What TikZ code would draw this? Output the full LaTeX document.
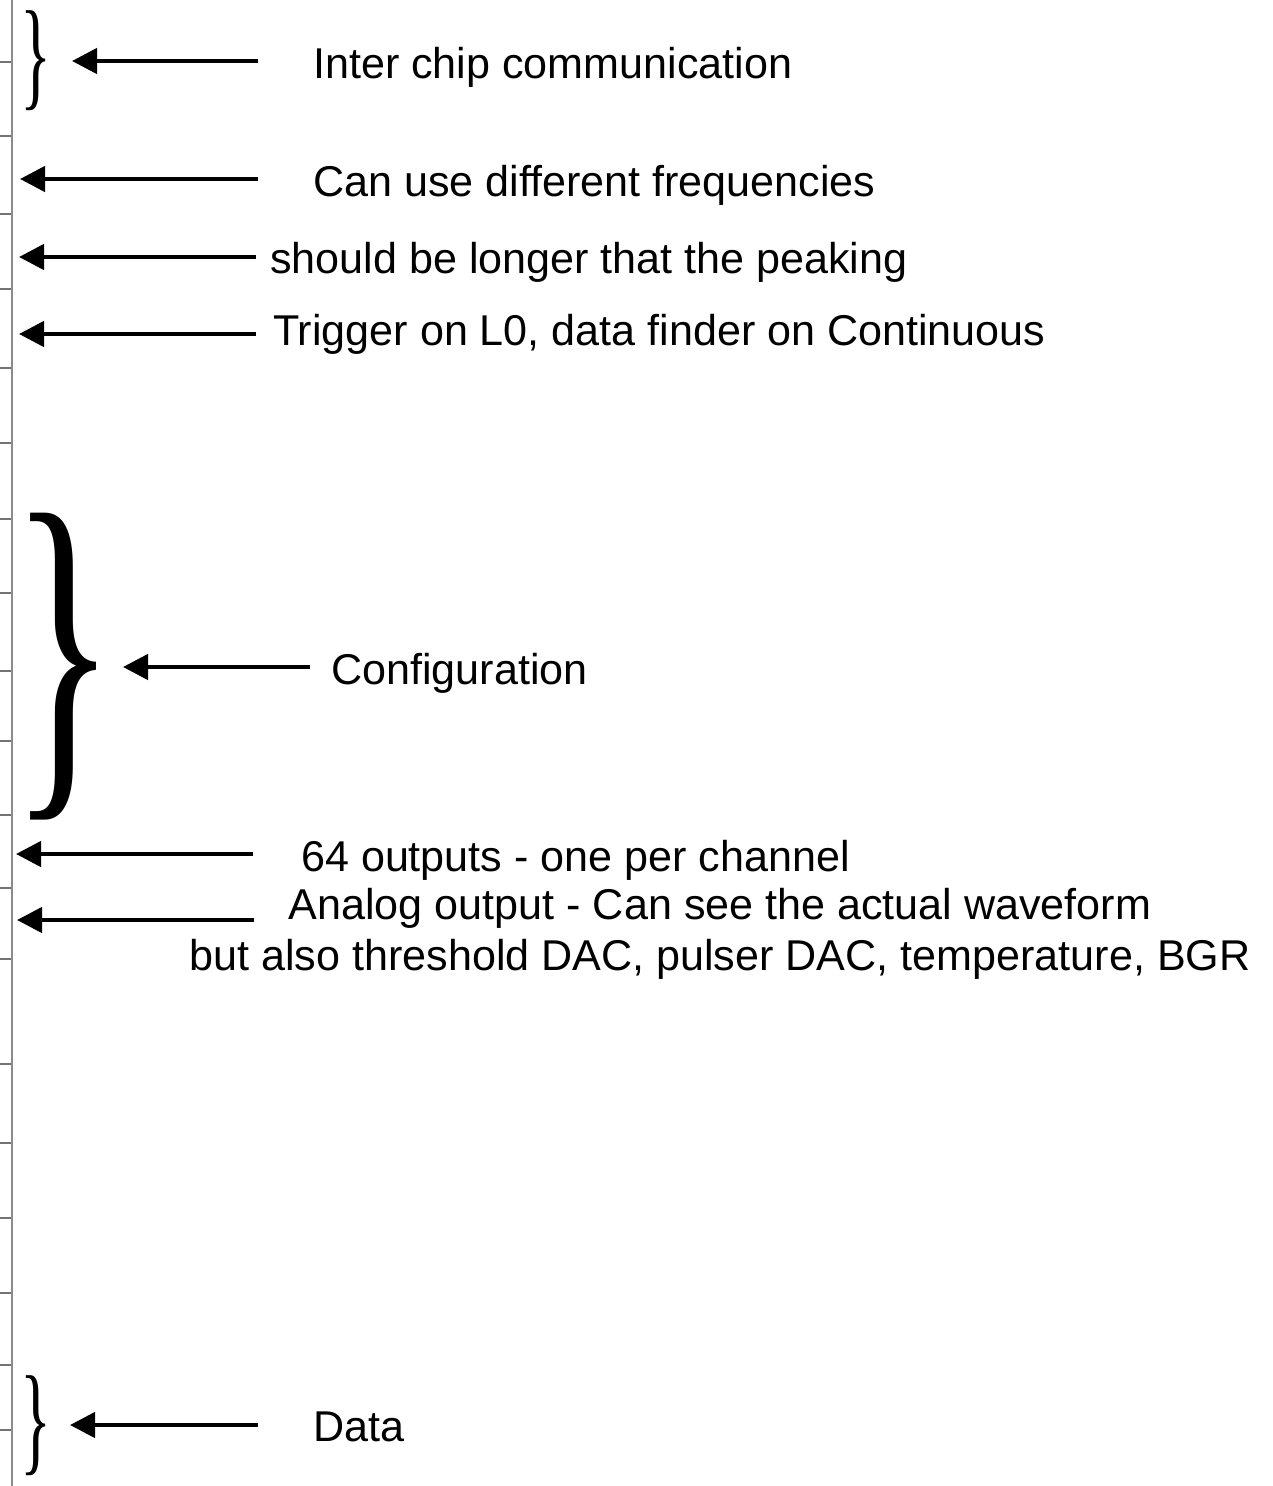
\documentclass[tikz,border=0pt]{standalone}
\usepackage{fontspec}
\setmainfont{Liberation Sans}
\newfontfamily\bracefont{Liberation Serif}
\usetikzlibrary{arrows.meta}
\tikzset{
  lbl/.style={anchor=base west, inner sep=0pt, font=\fontsize{43.1}{52}\selectfont},
  lblsmall/.style={align=center, inner sep=0pt, font=\fontsize{43.1}{51}\selectfont},
  arr/.style={line width=4.5pt, -{Triangle[length=25pt,width=25pt]}},
  rule/.style={draw=black!45, line width=2pt},
  tick/.style={draw=black!55, line width=1.2pt},
  brace/.style={inner sep=0pt, anchor=center},
}
\begin{document}
\begin{tikzpicture}[x=1pt,y=-1pt]
\useasboundingbox (0,0) rectangle (1272,1486);
% vertical ruler
\coordinate (rtop) at (11.5,0);
\coordinate (rbot) at (11.5,1486);
\draw[rule] (rtop) -- (rbot);
\foreach \y in {62,136,214,289,368,443,519,593,671,741,815,888,959,1064,1143,1218,1293,1365,1430}{
  \draw[tick] (0,\y) -- (11,\y);
}
% braces
\node[brace] (br1) at (36.5,61) {\resizebox*{31pt}{100pt}{\bracefont\}}};
\node[brace] (br2) at (64,667) {\resizebox*{106pt}{306pt}{\bracefont\}}};
\node[brace] (br3) at (36.5,1426) {\resizebox*{31pt}{100pt}{\bracefont\}}};
% texts
\node[lbl] (t1) at (313,78) {Inter chip communication};
\node[lbl] (t2) at (313,196) {Can use different frequencies};
\node[lbl] (t3) at (270,273) {should be longer that the peaking};
\node[lbl] (t4) at (273,345) {Trigger on L0, data finder on Continuous};
\node[lbl] (t5) at (331,684) {Configuration};
\node[lbl] (t6) at (301,871) {64 outputs - one per channel};
\node[lblsmall] (t7) at (720,934) {Analog output - Can see the actual waveform\\but also threshold DAC, pulser DAC, temperature, BGR};
\node[lbl] (t8) at (313,1441) {Data};
% arrow endpoints
\coordinate (s1) at (258,61);   \coordinate (e1) at (72,61);
\coordinate (s2) at (258,179);  \coordinate (e2) at (20,179);
\coordinate (s3) at (256,257);  \coordinate (e3) at (19,257);
\coordinate (s4) at (256,334);  \coordinate (e4) at (19,334);
\coordinate (s5) at (310,667);  \coordinate (e5) at (123,667);
\coordinate (s6) at (253,854);  \coordinate (e6) at (16,854);
\coordinate (s7) at (254,920);  \coordinate (e7) at (17,920);
\coordinate (s8) at (258,1425); \coordinate (e8) at (70,1425);
\foreach \i in {1,...,8}{\draw[arr] (s\i) -- (e\i);}
\end{tikzpicture}
\end{document}
